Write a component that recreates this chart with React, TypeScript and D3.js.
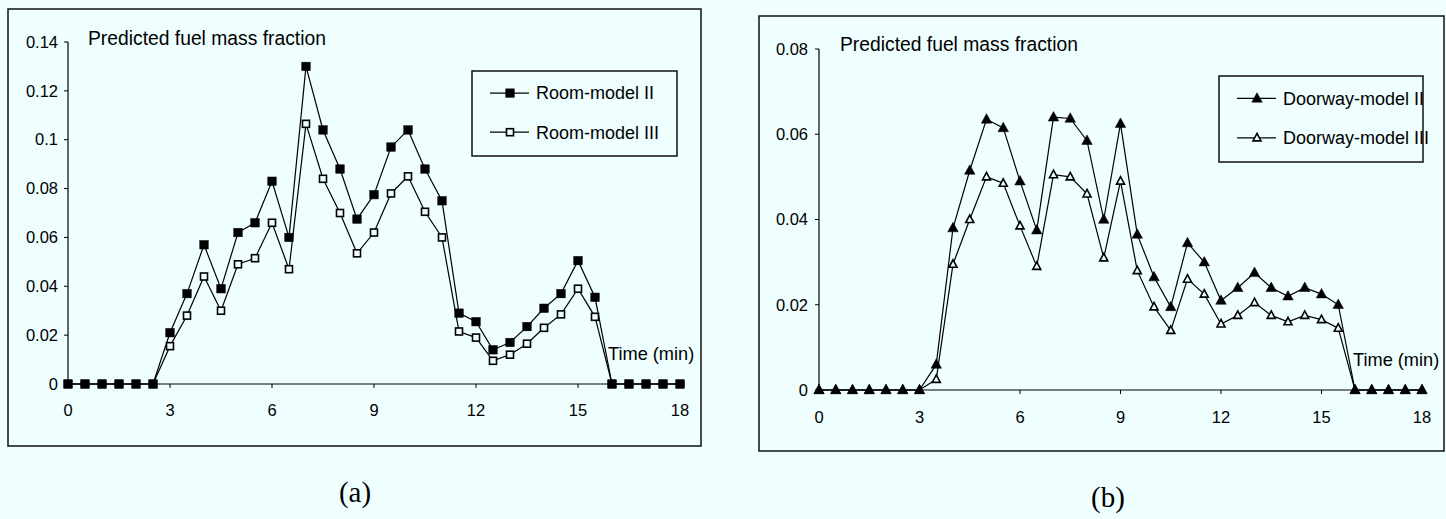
import React from "react";
import * as d3 from "d3";

const TIME = [0, 0.5, 1, 1.5, 2, 2.5, 3, 3.5, 4, 4.5, 5, 5.5, 6, 6.5, 7, 7.5, 8, 8.5, 9, 9.5, 10, 10.5, 11, 11.5, 12, 12.5, 13, 13.5, 14, 14.5, 15, 15.5, 16, 16.5, 17, 17.5, 18];

const ROOM_II = [0, 0, 0, 0, 0, 0, 0.021, 0.037, 0.057, 0.039, 0.062, 0.066, 0.083, 0.06, 0.13, 0.104, 0.088, 0.0675, 0.0775, 0.097, 0.104, 0.088, 0.075, 0.029, 0.0255, 0.014, 0.017, 0.0235, 0.031, 0.037, 0.0505, 0.0355, 0, 0, 0, 0, 0];
const ROOM_III = [0, 0, 0, 0, 0, 0, 0.0155, 0.028, 0.044, 0.03, 0.049, 0.0515, 0.066, 0.047, 0.1065, 0.084, 0.07, 0.0535, 0.062, 0.078, 0.085, 0.0705, 0.06, 0.0215, 0.019, 0.0095, 0.012, 0.0165, 0.023, 0.0285, 0.039, 0.0275, 0, 0, 0, 0, 0];

const DOOR_II = [0, 0, 0, 0, 0, 0, 0, 0.006, 0.038, 0.0515, 0.0635, 0.0615, 0.049, 0.0375, 0.064, 0.0637, 0.0585, 0.04, 0.0625, 0.0365, 0.0265, 0.0195, 0.0345, 0.03, 0.021, 0.024, 0.0275, 0.024, 0.022, 0.024, 0.0225, 0.02, 0, 0, 0, 0, 0];
const DOOR_III = [0, 0, 0, 0, 0, 0, 0, 0.0025, 0.0295, 0.04, 0.05, 0.0485, 0.0385, 0.029, 0.0505, 0.05, 0.046, 0.031, 0.049, 0.028, 0.0195, 0.014, 0.026, 0.0225, 0.0155, 0.0175, 0.0205, 0.0175, 0.016, 0.0175, 0.0165, 0.0145, 0, 0, 0, 0, 0];

const X_TICKS = [0, 3, 6, 9, 12, 15, 18];
const Y_TICKS_A = [0, 0.02, 0.04, 0.06, 0.08, 0.1, 0.12, 0.14];
const Y_TICKS_B = [0, 0.02, 0.04, 0.06, 0.08];

const TITLE = "Predicted fuel mass fraction";
const X_TITLE = "Time (min)";
const LEGEND_A = ["Room-model II", "Room-model III"];
const LEGEND_B = ["Doorway-model II", "Doorway-model III"];

const BG = "#effefe";
const FONT = "'Liberation Sans', Arial, Helvetica, sans-serif";
const SERIF = "'Liberation Serif', 'Times New Roman', serif";

type MarkerKind = "square" | "triangle";

function Marker({ kind, filled, x, y }: { kind: MarkerKind; filled: boolean; x: number; y: number }) {
  if (kind === "square") {
    const s = filled ? 8.5 : 7;
    return (
      <rect
        x={x - s / 2}
        y={y - s / 2}
        width={s}
        height={s}
        fill={filled ? "#000" : BG}
        stroke="#000"
        strokeWidth={filled ? 0.5 : 1.6}
      />
    );
  }
  const w = filled ? 10.5 : 8;
  const h = filled ? 9.5 : 7.5;
  const pts = `${x},${y - h * 0.6} ${x + w / 2},${y + h * 0.4} ${x - w / 2},${y + h * 0.4}`;
  return <polygon points={pts} fill={filled ? "#000" : BG} stroke="#000" strokeWidth={filled ? 0.5 : 1.6} />;
}

type PanelProps = {
  frame: [number, number, number, number];
  xRange: [number, number];
  yRange: [number, number];
  yMax: number;
  yTicks: number[];
  series: number[][];
  labels: string[];
  kind: MarkerKind;
  titlePos: [number, number];
  legendBox: [number, number, number, number];
  xTitlePos: [number, number];
  yLabelX: number;
  xLabelY: number;
};

function Panel(p: PanelProps) {
  const x = d3.scaleLinear().domain([0, 18]).range(p.xRange);
  const y = d3.scaleLinear().domain([0, p.yMax]).range(p.yRange);
  const line = d3
    .line<number>()
    .x((_, i) => x(TIME[i]))
    .y((v) => y(v));
  const [fx, fy, fw, fh] = p.frame;
  const [lx, ly, lw, lh] = p.legendBox;
  const order = [1, 0]; // open series underneath, filled on top
  return (
    <g>
      <rect x={fx} y={fy} width={fw} height={fh} fill="none" stroke="#111" strokeWidth={1.5} />
      <line x1={p.xRange[0]} x2={p.xRange[0]} y1={y(0)} y2={y(p.yMax)} stroke="#000" strokeWidth={1.2} />
      {p.yTicks.map((t) => (
        <g key={"yt" + t}>
          <line x1={p.xRange[0] - 4} x2={p.xRange[0]} y1={y(t)} y2={y(t)} stroke="#000" strokeWidth={1} />
          <text x={p.yLabelX} y={y(t)} dy="0.35em" textAnchor="end" fontFamily={FONT} fontSize={16.5} fill="#000">
            {String(t)}
          </text>
        </g>
      ))}
      <line x1={p.xRange[0]} x2={p.xRange[1]} y1={y(0)} y2={y(0)} stroke="#000" strokeWidth={1.2} />
      {X_TICKS.map((t) => (
        <g key={"xt" + t}>
          <line x1={x(t)} x2={x(t)} y1={y(0)} y2={y(0) + 4} stroke="#000" strokeWidth={1} />
          <text x={x(t)} y={p.xLabelY} dy="0.35em" textAnchor="middle" fontFamily={FONT} fontSize={16.5} fill="#000">
            {String(t)}
          </text>
        </g>
      ))}
      <text x={p.titlePos[0]} y={p.titlePos[1]} fontFamily={FONT} fontSize={19.3} fill="#000">
        {TITLE}
      </text>
      <text x={p.xTitlePos[0]} y={p.xTitlePos[1]} dy="0.35em" fontFamily={FONT} fontSize={18.2} fill="#000">
        {X_TITLE}
      </text>
      {order.map((si) => (
        <g key={"s" + si}>
          <path d={line(p.series[si]) || ""} fill="none" stroke="#000" strokeWidth={1.2} />
          {p.series[si].map((v, i) => (
            <Marker key={i} kind={p.kind} filled={si === 0} x={x(TIME[i])} y={y(v)} />
          ))}
        </g>
      ))}
      <rect x={lx} y={ly} width={lw} height={lh} fill={BG} stroke="#111" strokeWidth={1.5} />
      {p.labels.map((lab, i) => {
        const rowY = ly + lh * (i === 0 ? 0.26 : 0.72);
        const sx = lx + 18;
        return (
          <g key={"lg" + i}>
            <line x1={sx} x2={sx + 39} y1={rowY} y2={rowY} stroke="#000" strokeWidth={1.2} />
            <Marker kind={p.kind} filled={i === 0} x={sx + 20} y={rowY} />
            <text x={sx + 46} y={rowY} dy="0.35em" fontFamily={FONT} fontSize={18} fill="#000">
              {lab}
            </text>
          </g>
        );
      })}
    </g>
  );
}

export default function App() {
  return (
    <svg width={1446} height={519} style={{ position: "absolute", left: 0, top: 0, display: "block" }}>
      <rect x={0} y={0} width={1446} height={519} fill={BG} />
      <Panel
        frame={[8, 9, 693, 437]}
        xRange={[68, 680]}
        yRange={[384, 42]}
        yMax={0.14}
        yTicks={Y_TICKS_A}
        series={[ROOM_II, ROOM_III]}
        labels={LEGEND_A}
        kind="square"
        titlePos={[88, 45]}
        legendBox={[472, 71, 205, 85]}
        xTitlePos={[608, 354]}
        yLabelX={58}
        xLabelY={410}
      />
      <Panel
        frame={[759, 16, 685, 435]}
        xRange={[819, 1422]}
        yRange={[390, 49]}
        yMax={0.08}
        yTicks={Y_TICKS_B}
        series={[DOOR_II, DOOR_III]}
        labels={LEGEND_B}
        kind="triangle"
        titlePos={[840, 51]}
        legendBox={[1219, 76, 204, 86]}
        xTitlePos={[1353, 360]}
        yLabelX={808}
        xLabelY={417}
      />
      <text x={355} y={492} dy="0.35em" textAnchor="middle" fontFamily={SERIF} fontSize={29} fill="#000">
        (a)
      </text>
      <text x={1108} y={497} dy="0.35em" textAnchor="middle" fontFamily={SERIF} fontSize={29} fill="#000">
        (b)
      </text>
    </svg>
  );
}
